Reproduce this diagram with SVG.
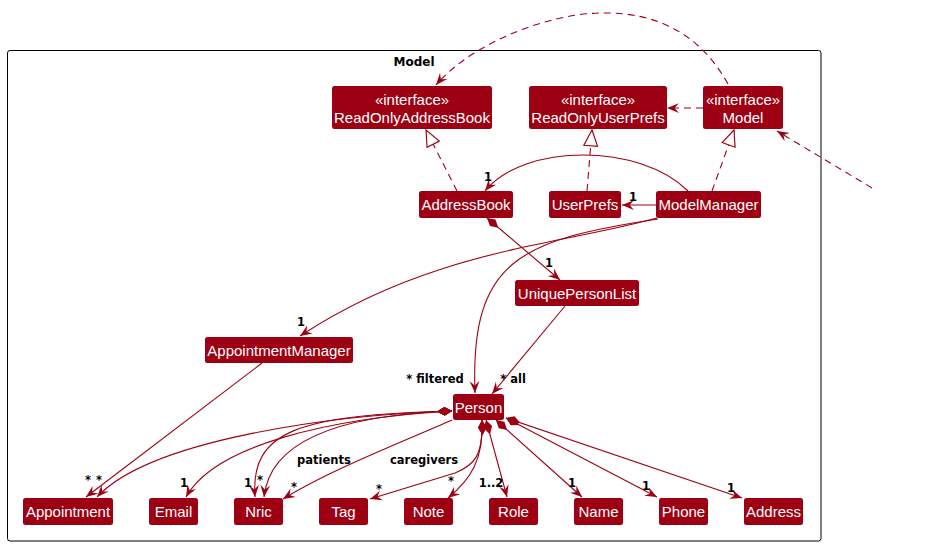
<svg xmlns="http://www.w3.org/2000/svg" width="948" height="546" viewBox="0 0 948 546">
<style>
.node rect{fill:#9D0012;stroke:none}
.node text{fill:#FFFFFF;font-family:"Liberation Sans",Arial,sans-serif;font-size:15px;text-anchor:middle}
.edge{fill:none;stroke:#9D0012;stroke-width:1.1}
.dash{stroke-dasharray:7,5}
.lbl{fill:#000;font-family:"DejaVu Sans",Verdana,sans-serif;font-weight:bold;font-size:11.5px;text-anchor:middle}
.title{fill:#000;font-family:"DejaVu Sans",Verdana,sans-serif;font-weight:bold;font-size:12px;text-anchor:middle}
</style>
<defs>
<marker id="arr" markerUnits="userSpaceOnUse" markerWidth="13" markerHeight="11" viewBox="0 0 12 10" refX="11" refY="5" orient="auto">
<path d="M0,0.5 L11,5 L0,9.5 L4,5 Z" fill="#9D0012"/>
</marker>
<marker id="tri" markerUnits="userSpaceOnUse" markerWidth="18" markerHeight="16" viewBox="-1 -1 17 15" refX="15" refY="6.5" orient="auto">
<path d="M0,0 L15,6.5 L0,13 Z" fill="#FFFFFF" stroke="#9D0012" stroke-width="1.1"/>
</marker>
<marker id="dia" markerUnits="userSpaceOnUse" markerWidth="16" markerHeight="10" viewBox="0 0 15 9" refX="0.5" refY="4.5" orient="auto">
<path d="M0.5,4.5 L7.5,0.5 L14.5,4.5 L7.5,8.5 Z" fill="#9D0012"/>
</marker>
</defs>
<rect width="948" height="546" fill="#FFFFFF"/>
<g id="frame-Model">
<rect x="7.5" y="50.5" width="813.5" height="490.5" rx="2.5" fill="none" stroke="#000" stroke-width="1"/>
<text class="title" x="414" y="66">Model</text>
</g>
<g id="connectors">
<path class="edge dash" d="M728,84 C695,25 645,12 600,13 C545,14 470,45 436,85" marker-end="url(#arr)"/>
<path class="edge dash" d="M872,188 L777,131" marker-end="url(#arr)"/>
<path class="edge dash" d="M703,108 L667,108" marker-end="url(#arr)"/>
<path class="edge dash" d="M457,191 L426,130" marker-end="url(#tri)"/>
<path class="edge dash" d="M587,191 L592,130" marker-end="url(#tri)"/>
<path class="edge dash" d="M712,191 L734,130" marker-end="url(#tri)"/>
<path class="edge" d="M688,191 C640,143 524,143 485,191" marker-end="url(#arr)"/>
<path class="edge" d="M656,205 L622,205" marker-end="url(#arr)"/>
<path class="edge" d="M487,218 L560,280" marker-start="url(#dia)" marker-end="url(#arr)"/>
<path class="edge" d="M657,218 C560,245 430,250 300,336" marker-end="url(#arr)"/>
<path class="edge" d="M658,219 C520,240 470,260 475,393" marker-end="url(#arr)"/>
<path class="edge" d="M565,306 L492,394" marker-end="url(#arr)"/>
<path class="edge" d="M262,363 L86,497" marker-end="url(#arr)"/>
<path class="edge" d="M452,411 C330,415 150,440 97,497" marker-start="url(#dia)" marker-end="url(#arr)"/>
<path class="edge" d="M452,411 C330,418 215,445 186,497" marker-start="url(#dia)" marker-end="url(#arr)"/>
<path class="edge" d="M452,411 C300,415 250,430 255,497" marker-start="url(#dia)" marker-end="url(#arr)"/>
<path class="edge" d="M452,411 C340,415 270,440 264,497" marker-start="url(#dia)" marker-end="url(#arr)"/>
<path class="edge" d="M452,420 C400,443 330,470 283,499" marker-end="url(#arr)"/>
<path class="edge" d="M482,420 C483,455 475,465 455,473 L370,499" marker-start="url(#dia)" marker-end="url(#arr)"/>
<path class="edge" d="M482,420 C484,460 470,480 448,498" marker-start="url(#dia)" marker-end="url(#arr)"/>
<path class="edge" d="M486,420 L507,497" marker-start="url(#dia)" marker-end="url(#arr)"/>
<path class="edge" d="M496,420 L582,497" marker-start="url(#dia)" marker-end="url(#arr)"/>
<path class="edge" d="M506,418 L657,497" marker-start="url(#dia)" marker-end="url(#arr)"/>
<path class="edge" d="M506,418 L742,498" marker-start="url(#dia)" marker-end="url(#arr)"/>
<text class="lbl" x="488" y="181">1</text>
<text class="lbl" x="633" y="201">1</text>
<text class="lbl" x="549" y="267">1</text>
<text class="lbl" x="301" y="326">1</text>
<text class="lbl" x="435" y="383">* filtered</text>
<text class="lbl" x="513" y="383">* all</text>
<text class="lbl" x="88" y="484">*</text>
<text class="lbl" x="99" y="484">*</text>
<text class="lbl" x="184" y="487">1</text>
<text class="lbl" x="248" y="487">1</text>
<text class="lbl" x="260" y="484">*</text>
<text class="lbl" x="294" y="491">*</text>
<text class="lbl" x="324" y="464">patients</text>
<text class="lbl" x="424" y="464">caregivers</text>
<text class="lbl" x="379" y="493">*</text>
<text class="lbl" x="451" y="485">*</text>
<text class="lbl" x="491" y="487">1..2</text>
<text class="lbl" x="572" y="487">1</text>
<text class="lbl" x="646" y="490">1</text>
<text class="lbl" x="731" y="492">1</text>
</g>
<g id="ReadOnlyAddressBook" class="node"><rect x="332" y="86" width="160" height="43" rx="2.5"/><text x="412" y="105">«interface»</text><text x="412" y="123">ReadOnlyAddressBook</text></g>
<g id="ReadOnlyUserPrefs" class="node"><rect x="529" y="86" width="138" height="43" rx="2.5"/><text x="598" y="105">«interface»</text><text x="598" y="123">ReadOnlyUserPrefs</text></g>
<g id="Model" class="node"><rect x="703" y="86" width="80" height="43" rx="2.5"/><text x="743" y="105">«interface»</text><text x="743" y="123">Model</text></g>
<g id="AddressBook" class="node"><rect x="419" y="191" width="94" height="27" rx="2.5"/><text x="466" y="210">AddressBook</text></g>
<g id="UserPrefs" class="node"><rect x="549" y="191" width="72" height="27" rx="2.5"/><text x="585" y="210">UserPrefs</text></g>
<g id="ModelManager" class="node"><rect x="656" y="191" width="105" height="27" rx="2.5"/><text x="708.5" y="210">ModelManager</text></g>
<g id="UniquePersonList" class="node"><rect x="515" y="280" width="124" height="26" rx="2.5"/><text x="577" y="298.5">UniquePersonList</text></g>
<g id="AppointmentManager" class="node"><rect x="205" y="337" width="148" height="26" rx="2.5"/><text x="279" y="355.5">AppointmentManager</text></g>
<g id="Person" class="node"><rect x="453" y="394" width="51" height="26" rx="2.5"/><text x="478.5" y="412.5">Person</text></g>
<g id="Appointment" class="node"><rect x="23" y="498" width="90" height="27" rx="2.5"/><text x="68" y="517">Appointment</text></g>
<g id="Email" class="node"><rect x="149" y="498" width="49" height="27" rx="2.5"/><text x="173.5" y="517">Email</text></g>
<g id="Nric" class="node"><rect x="234" y="498" width="49" height="27" rx="2.5"/><text x="258.5" y="517">Nric</text></g>
<g id="Tag" class="node"><rect x="319" y="498" width="49" height="27" rx="2.5"/><text x="343.5" y="517">Tag</text></g>
<g id="Note" class="node"><rect x="404" y="498" width="49" height="27" rx="2.5"/><text x="428.5" y="517">Note</text></g>
<g id="Role" class="node"><rect x="489" y="498" width="49" height="27" rx="2.5"/><text x="513.5" y="517">Role</text></g>
<g id="Name" class="node"><rect x="574" y="498" width="49" height="27" rx="2.5"/><text x="598.5" y="517">Name</text></g>
<g id="Phone" class="node"><rect x="659" y="498" width="49" height="27" rx="2.5"/><text x="683.5" y="517">Phone</text></g>
<g id="Address" class="node"><rect x="744" y="498" width="59" height="27" rx="2.5"/><text x="773.5" y="517">Address</text></g>
</svg>
